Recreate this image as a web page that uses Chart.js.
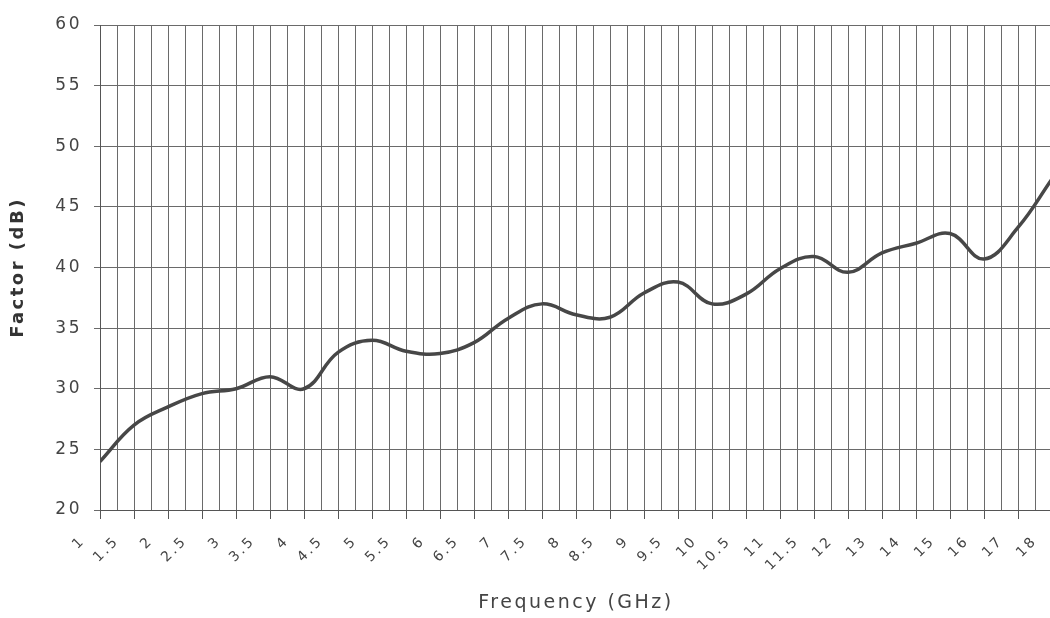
<!DOCTYPE html>
<html>
<head>
<meta charset="utf-8">
<script src="https://cdn.jsdelivr.net/npm/chart.js@4"></script>
<style>
  html, body { margin: 0; padding: 0; background: #fff; overflow: hidden; }
  #wrap { width: 1052px; height: 618px; }
</style>
</head>
<body>
<div id="wrap"><canvas id="chart"></canvas></div>
<script>
// frequency categories (GHz) as printed on the x axis
var freqLabels = ['1', '1.5', '2', '2.5', '3', '3.5', '4', '4.5', '5', '5.5', '6', '6.5', '7', '7.5',
                  '8', '8.5', '9', '9.5', '10', '10.5', '11', '11.5', '12', '13', '14', '15', '16', '17', '18'];
// antenna factor, one per category
var factorDb = [24.0, 27.0, 28.5, 29.6, 30.0, 31.0, 30.0, 33.0, 34.0, 33.1, 32.9, 33.8, 35.8, 37.0,
                36.1, 35.9, 37.9, 38.8, 37.0, 37.8, 39.9, 40.9, 39.6, 41.2, 42.0, 42.8, 40.7, 43.3, 47.3];
var yTicks = [20, 25, 30, 35, 40, 45, 50, 55, 60];

var points = factorDb.map(function(v, i) { return { x: i, y: v }; });

// scanned look: letters a bit spread out
var spacing = {
    id: 'spacing',
    beforeDraw: function(chart) { chart.ctx.letterSpacing = '2.5px'; }
};

var ctx = document.getElementById('chart');
var myChart = new Chart(ctx, {
    type: 'line',
    data: {
        datasets: [{
            data: points,
            borderColor: '#474747',
            borderWidth: 3.5,
            pointRadius: 0,
            tension: 0.4,
            fill: false
        }]
    },
    plugins: [spacing],
    options: {
        responsive: true,
        maintainAspectRatio: false,
        animation: false,
        layout: { padding: { top: 25, right: 0, bottom: 0, left: 0 } },
        plugins: { legend: { display: false }, tooltip: { enabled: false } },
        scales: {
            x: {
                type: 'linear',
                min: 0,
                max: freqLabels.length - 1,
                grid: {
                    color: '#6a6a6a',
                    lineWidth: 1,
                    tickLength: 9,
                    tickColor: function(c) {
                        return Number.isInteger(c.tick.value) ? '#555' : 'rgba(0,0,0,0)';
                    }
                },
                border: { color: '#555' },
                ticks: {
                    stepSize: 0.5,
                    autoSkip: false,
                    maxRotation: 45,
                    minRotation: 45,
                    labelOffset: -17,
                    padding: 14,
                    color: '#444',
                    font: { family: 'DejaVu Sans', size: 14 },
                    callback: function(value) {
                        return Number.isInteger(value) ? freqLabels[value] : '';
                    }
                },
                title: {
                    display: true,
                    text: 'Frequency (GHz)',
                    color: '#444',
                    font: { family: 'DejaVu Sans', size: 19 },
                    padding: { top: 0, bottom: 4 }
                },
                afterFit: function(scale) {
                    scale.height = 108;
                    scale.paddingRight = 0;
                }
            },
            y: {
                min: 20,
                max: 60,
                grid: { color: '#6a6a6a', lineWidth: 1, tickLength: 6 },
                border: { color: '#555' },
                afterBuildTicks: function(scale) {
                    scale.ticks = yTicks.map(function(v) { return { value: v }; });
                },
                ticks: {
                    color: '#444',
                    padding: 12,
                    font: { family: 'DejaVu Sans', size: 17 }
                },
                title: {
                    display: true,
                    text: 'Factor (dB)',
                    color: '#333',
                    font: { family: 'DejaVu Sans', size: 18, weight: 'bold' },
                    padding: { top: 8, bottom: 0 }
                },
                afterFit: function(scale) { scale.width = 100; }
            }
        }
    }
});
</script>
</body>
</html>
